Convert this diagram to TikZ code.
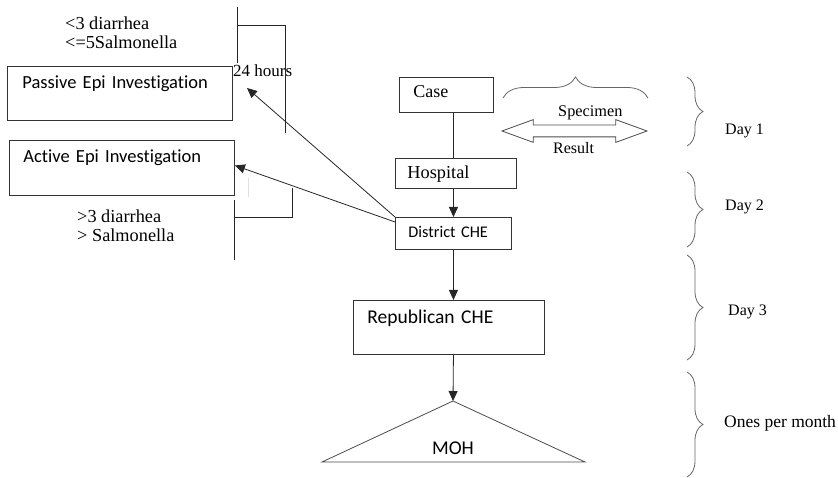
\documentclass[tikz,border=0pt]{standalone}
\usepackage{fontspec}
\setmainfont{Liberation Serif}
\setsansfont{Carlito}[Ligatures=NoCommon]
\usetikzlibrary{arrows.meta,calc,shapes.arrows,decorations.pathreplacing}

\begin{document}
\begin{tikzpicture}[x=1pt, y=-1pt,
  stagebox/.style={draw=black!80, line width=0.9pt, anchor=north west, align=left, inner ysep=0pt, font=\sffamily\fontsize{18.5}{22}\selectfont},
  note/.style={inner sep=0pt, anchor=base west, align=left, font=\fontsize{18.3}{19}\selectfont},
  link/.style={draw=black!85, line width=0.8pt},
  arr/.style={link, -{Triangle[length=10pt,width=9pt]}},
  brc/.style={draw=black!60, line width=0.8pt, decorate, decoration={brace, amplitude=#1}}]
\useasboundingbox (0,0) rectangle (838,478);

% reporting chain
\node (case) [stagebox, font=\fontsize{18}{22}\selectfont, text width=66pt, inner xsep=14pt, text height=20pt, text depth=15pt] at (399,77) {Case};
\node (hospital) [stagebox, font=\fontsize{18.3}{22}\selectfont, text width=97pt, inner xsep=12pt, text height=20pt, text depth=10pt] at (395,158) {Hospital};
\node (district) [stagebox, font=\sffamily\fontsize{16.3}{20}\selectfont, text width=90pt, inner xsep=13pt, text height=20pt, text depth=12pt] at (395,217) {District CHE};
\node (republican) [stagebox, font=\sffamily\fontsize{19.5}{22}\selectfont, text width=163pt, inner xsep=14pt, text height=23pt, text depth=31pt] at (353,300) {Republican CHE};
\coordinate (mohtop) at (453,401);
\draw[link, draw=black!70] (mohtop) -- (585,462) -- (322,462) -- cycle;
\node (moh) [font=\sffamily\fontsize{19.5}{22}\selectfont, anchor=base, inner sep=0pt] at (453,454) {MOH};

% investigations
\node (passive) [stagebox, text width=195pt, inner xsep=15pt, text height=22pt, text depth=32pt] at (7,66) {Passive Epi Investigation};
\node (active) [stagebox, text width=197pt, inner xsep=14pt, text height=22pt, text depth=33pt] at (9,140) {Active Epi Investigation};
\node (hours) [note, font=\fontsize{17}{19}\selectfont] at (233,77) {24 hours};
\node (fewcases) [note] at (65,49) {<3 diarrhea\\<=5Salmonella};
\node (manycases) [note] at (77,242) {>3 diarrhea\\> Salmonella};

% brackets
\draw[link] (237,7) -- (237,63);
\draw[link] (237,25) -- (285,25) -- (285,133);
\draw[link] (234,200) -- (234,260);
\draw[link] (234,217) -- (292,217) -- (292,188);
\draw[black!12, line width=0.8pt] (248,178) -- (248,197);

% connectors
\coordinate (hourstip) at (247,88);
\draw[link] (case.south -| district) -- (hospital.north -| district);
\draw[arr] (hospital.south -| district) -- (district.north);
\draw[arr] (district.south) -- (republican.north -| district);
\draw[arr] (republican.south -| district) -- (mohtop);
\draw[arr] (district.north west) -- (hourstip);
\draw[arr] ([yshift=-5pt]district.north west) -- ([yshift=2.5pt]active.east);

% specimen and result
\node (specres) [double arrow, draw=black!70, line width=0.8pt, minimum height=145pt, inner xsep=0pt, inner ysep=5.5pt, double arrow head extend=5.5pt, double arrow tip angle=40] at (574.5,131) {};
\node (specimen) [note, font=\fontsize{16.3}{19}\selectfont] at (558,117) {Specimen};
\node (result) [note, font=\fontsize{16}{19}\selectfont] at (553,154) {Result};
\draw[brc=21pt] (503,98) -- (648,98);

% time scale
\draw[brc=16pt] (687,77) -- (687,146);
\draw[brc=16pt] (687,172) -- (687,247);
\draw[brc=16pt] (687,255) -- (687,360);
\draw[brc=16pt] (687,372) -- (687,477);
\node (day1) [note, font=\fontsize{16}{19}\selectfont] at (725,135) {Day 1};
\node (day2) [note, font=\fontsize{16}{19}\selectfont] at (725,211) {Day 2};
\node (day3) [note, font=\fontsize{16}{19}\selectfont] at (728,316) {Day 3};
\node (monthly) [note, font=\fontsize{17.5}{19}\selectfont] at (724,427) {Ones per month};
\end{tikzpicture}
\end{document}
